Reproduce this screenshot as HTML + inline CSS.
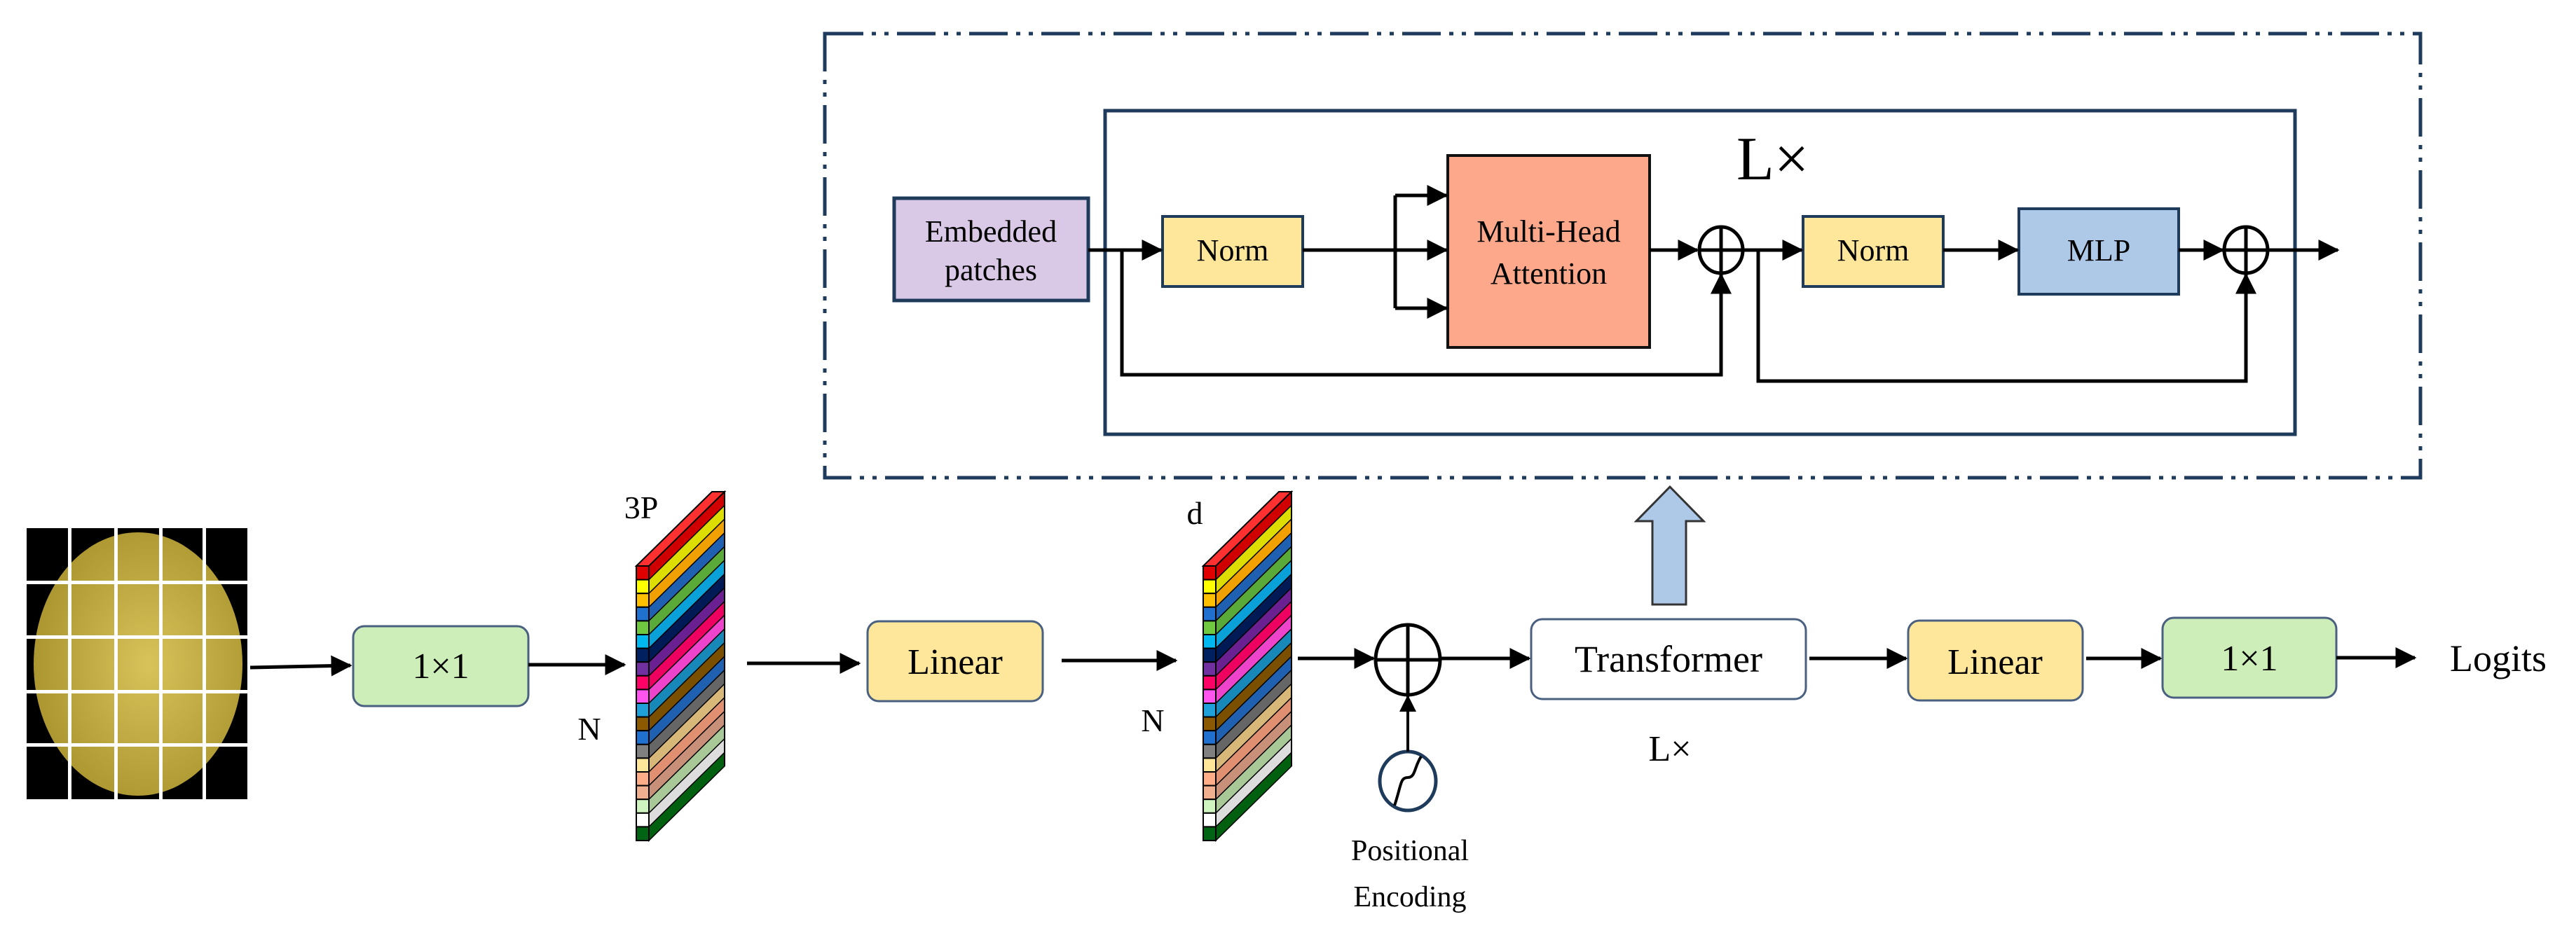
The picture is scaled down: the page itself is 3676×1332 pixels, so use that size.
<!DOCTYPE html>
<html><head><meta charset="utf-8"><style>html,body{margin:0;padding:0;background:#fff}svg{display:block}svg text{font-family:"Liberation Serif","DejaVu Serif",serif}</style></head>
<body>
<svg width="3676" height="1332" viewBox="0 0 3676 1332" xmlns="http://www.w3.org/2000/svg" font-family="'Liberation Serif', 'DejaVu Serif', serif">
<defs>
<marker id="ah" markerWidth="6" markerHeight="6" refX="5.5" refY="3" orient="auto" markerUnits="strokeWidth"><path d="M0,0 L6,3 L0,6 Z" fill="#000"/></marker>
<radialGradient id="pot" cx="0.55" cy="0.5" r="0.6"><stop offset="0" stop-color="#d8c25a"/><stop offset="1" stop-color="#a8922c"/></radialGradient>
<g id="stack">
<g transform="translate(926,808) skewY(-44.5)" stroke="#000" stroke-width="2">
<rect x="0" y="0" width="108" height="19.6" fill="#d00000"/>
<rect x="0" y="19.6" width="108" height="19.6" fill="#dddd00"/>
<rect x="0" y="39.2" width="108" height="19.6" fill="#f0a000"/>
<rect x="0" y="58.8" width="108" height="19.6" fill="#1f60b0"/>
<rect x="0" y="78.4" width="108" height="19.6" fill="#5aaa3a"/>
<rect x="0" y="98" width="108" height="19.6" fill="#0aa0d8"/>
<rect x="0" y="117.6" width="108" height="19.6" fill="#001a55"/>
<rect x="0" y="137.2" width="108" height="19.6" fill="#6a2090"/>
<rect x="0" y="156.8" width="108" height="19.6" fill="#ee0060"/>
<rect x="0" y="176.4" width="108" height="19.6" fill="#ee44cc"/>
<rect x="0" y="196" width="108" height="19.6" fill="#1888b8"/>
<rect x="0" y="215.6" width="108" height="19.6" fill="#7a5000"/>
<rect x="0" y="235.2" width="108" height="19.6" fill="#1f60b0"/>
<rect x="0" y="254.8" width="108" height="19.6" fill="#666"/>
<rect x="0" y="274.4" width="108" height="19.6" fill="#d8b878"/>
<rect x="0" y="294" width="108" height="19.6" fill="#e09070"/>
<rect x="0" y="313.6" width="108" height="19.6" fill="#c89078"/>
<rect x="0" y="333.2" width="108" height="19.6" fill="#a8c898"/>
<rect x="0" y="352.8" width="108" height="19.6" fill="#dddddd"/>
<rect x="0" y="372.4" width="108" height="19.6" fill="#006010"/>
</g>
<polygon points="908,808 926,808 1034,702 1016,702" fill="#ff3030" stroke="#000" stroke-width="2"/>
<g stroke="#000" stroke-width="2">
<rect x="908" y="808" width="18" height="19.6" fill="#e00000"/>
<rect x="908" y="827.6" width="18" height="19.6" fill="#ffff00"/>
<rect x="908" y="847.2" width="18" height="19.6" fill="#ffc000"/>
<rect x="908" y="866.8" width="18" height="19.6" fill="#2070d0"/>
<rect x="908" y="886.4" width="18" height="19.6" fill="#70c840"/>
<rect x="908" y="906" width="18" height="19.6" fill="#00b8f0"/>
<rect x="908" y="925.6" width="18" height="19.6" fill="#002060"/>
<rect x="908" y="945.2" width="18" height="19.6" fill="#7030a0"/>
<rect x="908" y="964.8" width="18" height="19.6" fill="#ff0066"/>
<rect x="908" y="984.4" width="18" height="19.6" fill="#ff55ee"/>
<rect x="908" y="1004" width="18" height="19.6" fill="#20a0d8"/>
<rect x="908" y="1023.6" width="18" height="19.6" fill="#8b5a00"/>
<rect x="908" y="1043.2" width="18" height="19.6" fill="#2070d0"/>
<rect x="908" y="1062.8" width="18" height="19.6" fill="#808080"/>
<rect x="908" y="1082.4" width="18" height="19.6" fill="#ffe699"/>
<rect x="908" y="1102" width="18" height="19.6" fill="#ffac88"/>
<rect x="908" y="1121.6" width="18" height="19.6" fill="#f0b090"/>
<rect x="908" y="1141.2" width="18" height="19.6" fill="#d0f4c0"/>
<rect x="908" y="1160.8" width="18" height="19.6" fill="#ffffff"/>
<rect x="908" y="1180.4" width="18" height="19.6" fill="#006414"/>
</g>
</g>
</defs>

<rect x="1177" y="48" width="2277" height="634" fill="none" stroke="#1f3b5c" stroke-width="5" stroke-dasharray="55 12 6 12 6 12"/>
<rect x="1577" y="158" width="1698" height="462" fill="none" stroke="#1f3b5c" stroke-width="5"/>
<text x="2478" y="256" font-size="88">L×</text>

<rect x="1276" y="283" width="277" height="146" fill="#d9c8e6" stroke="#1f3b5c" stroke-width="5"/>
<text x="1414" y="345" font-size="44" text-anchor="middle">Embedded</text>
<text x="1414" y="400" font-size="44" text-anchor="middle">patches</text>
<rect x="1659" y="309" width="200" height="100" fill="#fee79a" stroke="#1f3b5c" stroke-width="4"/>
<text x="1759" y="372" font-size="44" text-anchor="middle">Norm</text>
<rect x="2066" y="222" width="288" height="274" fill="#fda88a" stroke="#111" stroke-width="4"/>
<text x="2210" y="345" font-size="44" text-anchor="middle">Multi-Head</text>
<text x="2210" y="405" font-size="44" text-anchor="middle">Attention</text>
<rect x="2573" y="309" width="200" height="100" fill="#fee79a" stroke="#1f3b5c" stroke-width="4"/>
<text x="2673" y="372" font-size="44" text-anchor="middle">Norm</text>
<rect x="2881" y="298" width="228" height="122" fill="#aec8e8" stroke="#1f3b5c" stroke-width="4"/>
<text x="2995" y="372" font-size="44" text-anchor="middle">MLP</text>

<g stroke="#000" stroke-width="5" fill="none">
<line x1="1553" y1="357" x2="1657" y2="357" marker-end="url(#ah)"/>
<polyline points="1601,357 1601,535 2456,535 2456,392" marker-end="url(#ah)"/>
<line x1="1859" y1="357" x2="1991" y2="357"/>
<line x1="1991" y1="279" x2="1991" y2="440"/>
<line x1="1991" y1="279" x2="2064" y2="279" marker-end="url(#ah)"/>
<line x1="1991" y1="357" x2="2064" y2="357" marker-end="url(#ah)"/>
<line x1="1991" y1="440" x2="2064" y2="440" marker-end="url(#ah)"/>
<line x1="2354" y1="357" x2="2422" y2="357" marker-end="url(#ah)"/>
<ellipse cx="2456" cy="357" rx="31" ry="33"/>
<line x1="2425" y1="357" x2="2487" y2="357"/><line x1="2456" y1="324" x2="2456" y2="390"/>
<line x1="2487" y1="357" x2="2571" y2="357" marker-end="url(#ah)"/>
<polyline points="2509,357 2509,544 3205,544 3205,392" marker-end="url(#ah)"/>
<line x1="2773" y1="357" x2="2879" y2="357" marker-end="url(#ah)"/>
<line x1="3109" y1="357" x2="3172" y2="357" marker-end="url(#ah)"/>
<ellipse cx="3205" cy="357" rx="31" ry="33"/>
<line x1="3174" y1="357" x2="3236" y2="357"/><line x1="3205" y1="324" x2="3205" y2="390"/>
<line x1="3236" y1="357" x2="3336" y2="357" marker-end="url(#ah)"/>
</g>

<rect x="38" y="754" width="315" height="387" fill="#000"/>
<ellipse cx="197" cy="948" rx="149" ry="188" fill="url(#pot)"/>
<g fill="#fff">
<rect x="97" y="754" width="5" height="387"/><rect x="163" y="754" width="5" height="387"/>
<rect x="227" y="754" width="5" height="387"/><rect x="289" y="754" width="5" height="387"/>
<rect x="38" y="829" width="315" height="5"/><rect x="38" y="907" width="315" height="5"/>
<rect x="38" y="985" width="315" height="5"/><rect x="38" y="1061" width="315" height="5"/>
</g>

<use href="#stack"/>
<use href="#stack" transform="translate(809,0)"/>
<text x="915" y="740" font-size="46" text-anchor="middle">3P</text>
<text x="841" y="1056" font-size="46" text-anchor="middle">N</text>
<text x="1705" y="748" font-size="46" text-anchor="middle">d</text>
<text x="1645" y="1044" font-size="46" text-anchor="middle">N</text>

<rect x="504" y="894" width="250" height="114" rx="16" fill="#cdeeb8" stroke="#4a6080" stroke-width="3"/>
<text x="629" y="968" font-size="52" text-anchor="middle">1×1</text>
<rect x="1238" y="887" width="250" height="114" rx="16" fill="#fee79a" stroke="#4a6080" stroke-width="3"/>
<text x="1363" y="962" font-size="52" text-anchor="middle">Linear</text>
<rect x="2185" y="884" width="392" height="114" rx="16" fill="#fff" stroke="#4a6080" stroke-width="3"/>
<text x="2381" y="959" font-size="54" text-anchor="middle">Transformer</text>
<text x="2383" y="1086" font-size="52" text-anchor="middle">L×</text>
<rect x="2723" y="886" width="249" height="114" rx="16" fill="#fee79a" stroke="#4a6080" stroke-width="3"/>
<text x="2847" y="962" font-size="52" text-anchor="middle">Linear</text>
<rect x="3086" y="882" width="248" height="114" rx="16" fill="#cdeeb8" stroke="#4a6080" stroke-width="3"/>
<text x="3210" y="957" font-size="52" text-anchor="middle">1×1</text>
<text x="3496" y="958" font-size="54">Logits</text>

<polygon points="2383,695 2431,744 2406,744 2406,863 2358,863 2358,744 2335,744" fill="#aec8e8" stroke="#333" stroke-width="3"/>

<ellipse cx="2009" cy="1115" rx="40" ry="42" fill="#fff" stroke="#1f3b5c" stroke-width="5"/>
<path d="M1990,1150 C2000,1120 1998,1110 2009,1110 C2020,1110 2018,1095 2028,1080" fill="none" stroke="#000" stroke-width="4"/>
<text x="2012" y="1228" font-size="42" text-anchor="middle">Positional</text>
<text x="2012" y="1294" font-size="42" text-anchor="middle">Encoding</text>

<g stroke="#000" stroke-width="5" fill="none">
<line x1="357" y1="953" x2="500" y2="950" marker-end="url(#ah)"/>
<line x1="754" y1="949" x2="891" y2="949" marker-end="url(#ah)"/>
<line x1="1066" y1="947" x2="1226" y2="947" marker-end="url(#ah)"/>
<line x1="1515" y1="943" x2="1678" y2="943" marker-end="url(#ah)"/>
<line x1="1852" y1="940" x2="1960" y2="940" marker-end="url(#ah)"/>
<ellipse cx="2009" cy="942" rx="46" ry="50"/>
<line x1="1963" y1="942" x2="2055" y2="942"/><line x1="2009" y1="892" x2="2009" y2="992"/>
<line x1="2055" y1="940" x2="2182" y2="940" marker-end="url(#ah)"/>
<line x1="2009" y1="1073" x2="2009" y2="994" stroke-width="4" marker-end="url(#ah)"/>
<line x1="2582" y1="940" x2="2720" y2="940" marker-end="url(#ah)"/>
<line x1="2977" y1="940" x2="3083" y2="940" marker-end="url(#ah)"/>
<line x1="3334" y1="939" x2="3446" y2="939" marker-end="url(#ah)"/>
</g>
</svg>
</body></html>
